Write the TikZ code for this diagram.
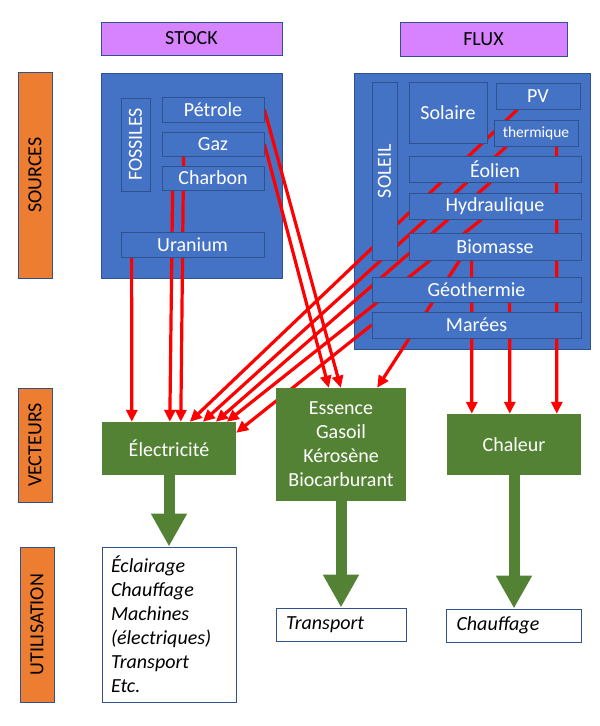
\documentclass[tikz,border=0pt]{standalone}
\usepackage{fontspec}
\setmainfont{Carlito}
\usepackage{tikz}
\usetikzlibrary{arrows.meta}

\definecolor{boxblue}{HTML}{4472C4}
\definecolor{lineblue}{HTML}{2F528F}
\definecolor{vecgreen}{HTML}{548235}
\definecolor{labelorange}{HTML}{ED7D31}
\definecolor{headviolet}{HTML}{D783FF}
\definecolor{flowred}{HTML}{FF0000}

\pgfdeclarelayer{back}
\pgfdeclarelayer{flows}
\pgfsetlayers{back,flows,main}

\begin{document}
\begin{tikzpicture}[x=1pt, y=-1pt,
        every node/.style={font=\fontsize{20}{24}\selectfont, inner sep=0pt},
        header/.style={draw=lineblue, line width=0.8pt, fill=headviolet},
        rowlabel/.style={draw=lineblue, line width=0.8pt, fill=labelorange, rotate=90},
        container/.style={draw=lineblue, line width=0.8pt, fill=boxblue},
        srcbox/.style={draw=lineblue, line width=0.8pt, fill=boxblue, text=white},
        vecbox/.style={fill=vecgreen, text=white, align=center},
        usebox/.style={draw=lineblue, line width=1pt, fill=white, align=left, font=\fontsize{20}{24}\selectfont\itshape},
        flow/.style={draw=flowred, line width=3.2pt, -{Triangle[length=12pt,width=11pt]}},
        bigarrow/.style={draw=vecgreen, line width=11pt, -{Triangle[length=33pt,width=34pt]}}]
        \useasboundingbox (0,0) rectangle (600,726);

        % Draw the column headers
        \node[header, minimum width=181pt, minimum height=33pt] (stock) at (191.5,38.5) {STOCK};
        \node[header, minimum width=167pt, minimum height=34pt] (flux) at (483.5,39) {FLUX};

        % Draw the row labels
        \node[rowlabel, minimum width=206pt, minimum height=34pt] (sources) at (35,175) {SOURCES};
        \node[rowlabel, minimum width=114pt, minimum height=34pt] (vecteurs) at (35,445) {VECTEURS};
        \node[rowlabel, minimum width=155pt, minimum height=34pt] (utilisation) at (37,624.5) {UTILISATION};

        % Draw the two source containers
        \begin{pgfonlayer}{back}
            \node[container, minimum width=181pt, minimum height=205pt] (stockbox) at (191.5,175.5) {};
            \node[container, minimum width=236pt, minimum height=276pt] (fluxbox) at (472,211) {};
        \end{pgfonlayer}

        % Stock sources
        \node[srcbox, rotate=90, minimum width=93pt, minimum height=29pt] (fossiles) at (135.5,144.5) {FOSSILES};
        \node[srcbox, minimum width=102pt, minimum height=25pt] (petrole) at (213,109.5) {Pétrole};
        \node[srcbox, minimum width=102pt, minimum height=24pt] (gaz) at (213,144) {Gaz};
        \node[srcbox, minimum width=102pt, minimum height=24pt] (charbon) at (213,178) {Charbon};
        \node[srcbox, minimum width=143pt, minimum height=25pt] (uranium) at (192.5,244.5) {Uranium};

        % Flux sources
        \node[srcbox, rotate=90, minimum width=178pt, minimum height=25pt] (soleil) at (384.5,171) {SOLEIL};
        \node[srcbox, minimum width=78pt, minimum height=61pt] (solaire) at (448,112.5) {Solaire};
        \node[srcbox, minimum width=84pt, minimum height=26pt] (pv) at (538,96) {PV};
        \node[srcbox, minimum width=84pt, minimum height=26pt, font=\fontsize{15.5}{18}\selectfont] (thermique) at (536,133) {thermique};
        \node[srcbox, minimum width=172pt, minimum height=26pt] (eolien) at (495,169) {Éolien};
        \node[srcbox, minimum width=172pt, minimum height=26pt] (hydraulique) at (495,206) {Hydraulique};
        \node[srcbox, minimum width=172pt, minimum height=27pt] (biomasse) at (495,246.5) {Biomasse};
        \node[srcbox, minimum width=209pt, minimum height=25pt] (geothermie) at (476.5,289.5) {Géothermie};
        \node[srcbox, minimum width=209pt, minimum height=26pt] (marees) at (476.5,325) {Marées};

        % Draw the vectors
        \node[vecbox, minimum width=134pt, minimum height=53pt] (elec) at (169,448.5) {Électricité};
        \node[vecbox, minimum width=130pt, minimum height=113pt] (carbu) at (341,444.5) {Essence\\Gasoil\\Kérosène\\Biocarburant};
        \node[vecbox, minimum width=134pt, minimum height=61pt] (chaleur) at (514,444.5) {Chaleur};

        % Draw the uses
        \node[usebox, text width=116pt, inner xsep=9pt, minimum height=155pt] (usages) at (169,624.5) {Éclairage\\Chauffage\\Machines\\(électriques)\\Transport\\Etc.};
        \node[usebox, text width=110pt, inner xsep=10pt, minimum height=33pt] (transport) at (341,624.5) {Transport};
        \node[usebox, text width=115pt, inner xsep=10pt, minimum height=33pt] (chauffage) at (514,625.5) {Chauffage};

        % Red flows, behind the source boxes
        \begin{pgfonlayer}{flows}
            \draw[flow] ([xshift=11pt]uranium.south west) -- ([xshift=30pt]elec.north west);
            \draw[flow] ([xshift=11pt]charbon.south west) -- ([xshift=68pt]elec.north west);
            \draw[flow] ([xshift=22pt]gaz.south west) -- ([xshift=79pt]elec.north west);
            \draw[flow] (petrole.east) -- ([xshift=65pt]carbu.north west);
            \draw[flow] (gaz.east) -- ([xshift=53pt]carbu.north west);
            \draw[flow] ([xshift=22pt]pv.south west) -- ([xshift=88pt]elec.north west);
            \draw[flow] ([xshift=13pt]thermique.south west) -- ([xshift=101pt]elec.north west);
            \draw[flow] ([xshift=82pt]eolien.south west) -- ([xshift=114pt]elec.north west);
            \draw[flow] ([xshift=73pt]hydraulique.south west) -- ([xshift=125pt]elec.north west);
            \draw[flow] (marees.west) -- ([yshift=-11pt]elec.north east);
            \draw[flow] ([xshift=51pt]biomasse.south west) -- ([xshift=-29pt]carbu.north east);
            \draw[flow] ([xshift=63pt]biomasse.south west) -- ([xshift=25pt]chaleur.north west);
            \draw[flow] ([xshift=138pt]geothermie.south west) -- ([xshift=63pt]chaleur.north west);
            \draw[flow] ([xshift=63pt]thermique.south west) -- ([xshift=110pt]chaleur.north west);
        \end{pgfonlayer}

        % Green arrows to the uses
        \draw[bigarrow] (elec.south) -- (usages.north);
        \draw[bigarrow] (carbu.south) -- (transport.north);
        \draw[bigarrow] (chaleur.south) -- (chauffage.north);

    \end{tikzpicture}
\end{document}
